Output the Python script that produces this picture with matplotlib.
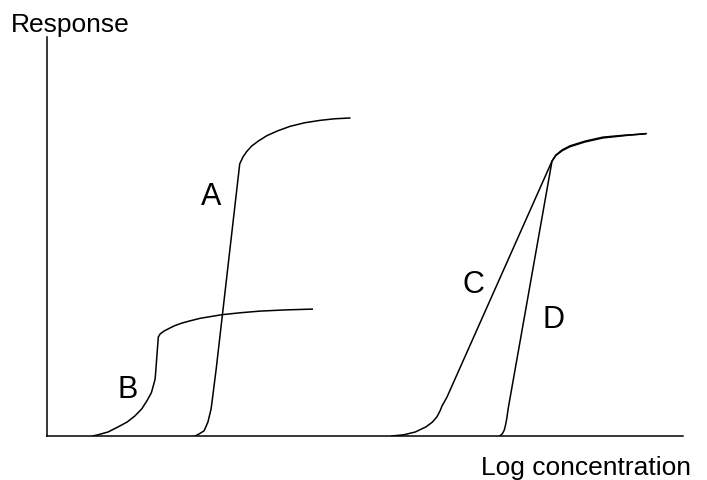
import matplotlib.pyplot as plt

plt.rcParams['font.family'] = ['Liberation Sans', 'DejaVu Sans']

# log concentration (arbitrary units) and response for each curve
a_x = [23.3, 23.9, 24.7, 25.3, 25.8, 26.1, 26.6, 30.3, 30.8, 31.4, 32.2, 33.3, 34.6, 36.3, 38.2, 40.5, 42.9, 45.2, 47.6]
a_y = [0.0, 0.5, 1.3, 3.5, 6.8, 10.5, 16.8, 68.2, 69.9, 71.3, 72.7, 74.0, 75.3, 76.5, 77.6, 78.5, 79.1, 79.5, 79.7]

b_x = [7.2, 8.0, 9.6, 11.2, 12.6, 13.8, 14.9, 15.7, 16.4, 16.7, 17.0, 17.1, 17.3, 17.5, 17.8, 18.4, 19.0, 20.0, 21.2,
       22.6, 24.1, 27.5, 30.5, 33.5, 37.5, 41.7]
b_y = [0.0, 0.3, 1.0, 2.3, 3.5, 5.0, 6.8, 8.8, 10.8, 12.5, 14.3, 16.3, 20.6, 24.8, 25.6, 26.3, 26.8, 27.6, 28.3,
       28.9, 29.5, 30.4, 30.9, 31.3, 31.6, 31.8]

c_x = [54.2, 56.1, 57.9, 59.6, 60.6, 61.3, 61.8, 62.1, 62.9, 79.4, 80.0, 81.0, 82.2, 84.6, 87.4, 90.9, 94.0]
c_y = [0.0, 0.3, 1.0, 2.3, 3.5, 4.8, 6.3, 7.5, 9.8, 68.9, 70.4, 71.7, 72.7, 73.9, 74.9, 75.4, 75.7]

d_x = [71.2, 71.6, 71.9, 72.1, 72.3, 72.5, 79.4, 80.0, 81.0, 82.2, 84.6, 87.4, 90.9, 94.2]
d_y = [0.0, 0.6, 1.5, 2.8, 4.5, 6.8, 68.9, 70.3, 71.5, 72.5, 73.7, 74.7, 75.3, 75.8]

labels = ['A', 'B', 'C', 'D']
label_x = [25.8, 12.6, 67.1, 79.6]
label_y = [58.1, 9.8, 36.1, 27.3]

fig = plt.figure(figsize=(7.07, 4.81), dpi=100)
ax = fig.add_axes([0.0665, 0.0915, 0.8996, 0.8295])

for xs, ys in [(a_x, a_y), (b_x, b_y), (c_x, c_y), (d_x, d_y)]:
    ax.plot(xs, ys, color='black', lw=1.1)

for lab, lx, ly in zip(labels, label_x, label_y):
    ax.text(lx, ly, lab, fontsize=22, ha='center', va='baseline')

ax.set_xlim(0, 100)
ax.set_ylim(0, 100)
ax.spines['top'].set_visible(False)
ax.spines['right'].set_visible(False)
ax.spines['left'].set_linewidth(1.1)
ax.spines['bottom'].set_linewidth(1.1)
ax.set_xticks([])
ax.set_yticks([])

fig.text(11 / 707, 1 - 32 / 481, 'Response', fontsize=19, ha='left', va='baseline')
fig.text(481 / 707, 1 - 475 / 481, 'Log concentration', fontsize=19, ha='left', va='baseline')

fig.savefig('out.png', dpi=100)
